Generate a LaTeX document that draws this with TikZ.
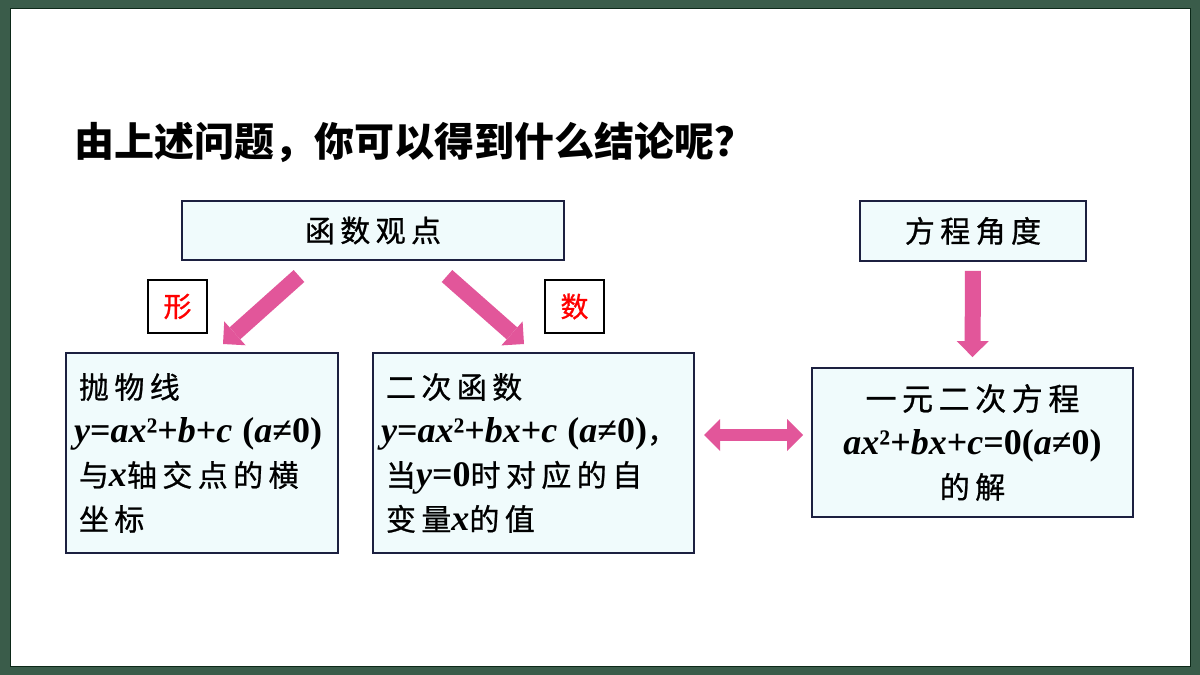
\documentclass[tikz,border=0pt]{standalone}
\usepackage{fontspec}
\setmainfont{Noto Sans CJK SC}[LetterSpace=18, FakeBold=0.8]
\newfontfamily\titlefont{Noto Sans CJK SC}
\newfontfamily\latfont{Liberation Serif}
\usetikzlibrary{arrows.meta}
\definecolor{frame}{RGB}{58,92,74}
\definecolor{frameline}{RGB}{12,40,24}
\definecolor{boxfill}{RGB}{240,251,252}
\definecolor{boxline}{RGB}{28,32,64}
\definecolor{apink}{RGB}{226,86,154}
\newcommand\fm[1]{{\latfont\bfseries\fontsize{36}{44}\selectfont #1}}
\newcommand\vi[1]{\textit{#1}}
\begin{document}
\begin{tikzpicture}[x=1pt,y=-1pt,
  box/.style={draw=boxline, line width=1.8pt, fill=boxfill, inner sep=0pt, font=\fontsize{30}{44}\selectfont},
  textbox/.style={box, inner xsep=8pt, inner ysep=0pt, minimum height=#1, align=left},
  tag/.style={draw=black, line width=1.5pt, fill=white, minimum width=59pt, minimum height=53pt, text=red, font=\fontsize{28}{30}\selectfont, inner sep=0pt},
  blockarrow/.style={draw=apink, line width=16pt, -{Triangle[length=16pt,width=32pt,line width=0pt]}},
  dblarrow/.style={draw=apink, line width=12pt, {Triangle[length=16pt,width=32pt,line width=0pt]}-{Triangle[length=16pt,width=32pt,line width=0pt]}}
]
\useasboundingbox (0,0) rectangle (1200,675);
\fill[frame] (0,0) rectangle (1200,675);
\filldraw[fill=white, draw=frameline, line width=1pt] (10,8) rectangle (1190,666);

\node[anchor=base west, font=\titlefont\bfseries\fontsize{40}{44}\selectfont, inner sep=0pt] (title) at (74,156) {由上述问题，你可以得到什么结论呢？};

\node[box, minimum width=382pt, minimum height=59pt] (func) at (373,230.5) {函数观点};
\node[box, minimum width=226pt, minimum height=60pt] (eq) at (973,231) {方程角度};

\node[tag] (xing) at (177.5,306.5) {形};
\node[tag] (shu) at (574.5,306.5) {数};

\node[textbox=200pt, text width=256pt] (b1) at (202,453) {%
\hspace*{5pt}抛物线\\
\fm{\vi{y}=\vi{ax}²+\vi{b}+\vi{c}~(\vi{a}≠0)}\\
\hspace*{5pt}与\fm{\vi{x}}轴交点的横\\
\hspace*{5pt}坐标};

\node[textbox=200pt, text width=305pt] (b2) at (533.5,453) {%
\hspace*{5pt}二次函数\\
\fm{\vi{y}=\vi{ax}²+\vi{bx}+\vi{c}~(\vi{a}≠0)}，\\
\hspace*{5pt}当\fm{\vi{y}=0}时对应的自\\
\hspace*{5pt}变量\fm{\vi{x}}的值};

\node[box, inner xsep=8pt, text width=305pt, minimum height=149pt, align=center] (b3) at (972.5,442.5) {%
{\fontsize{31}{44}\selectfont 一元二次方程}\\
\fm{\vi{ax}²+\vi{bx}+\vi{c}=0(\vi{a}≠0)}\\
的解};

\coordinate (xs) at (299,276);
\coordinate (xe) at (223,344);
\coordinate (ss) at (447,276);
\coordinate (se) at (524,344);
\coordinate (dl) at (704,435);
\coordinate (dr) at (803,435);

\draw[blockarrow] (xs) -- (xe);
\draw[blockarrow] (ss) -- (se);
\draw[blockarrow, shorten <=9pt, shorten >=10pt] (eq.south) -- (b3.north);
\draw[dblarrow] (dl) -- (dr);
\end{tikzpicture}
\end{document}
